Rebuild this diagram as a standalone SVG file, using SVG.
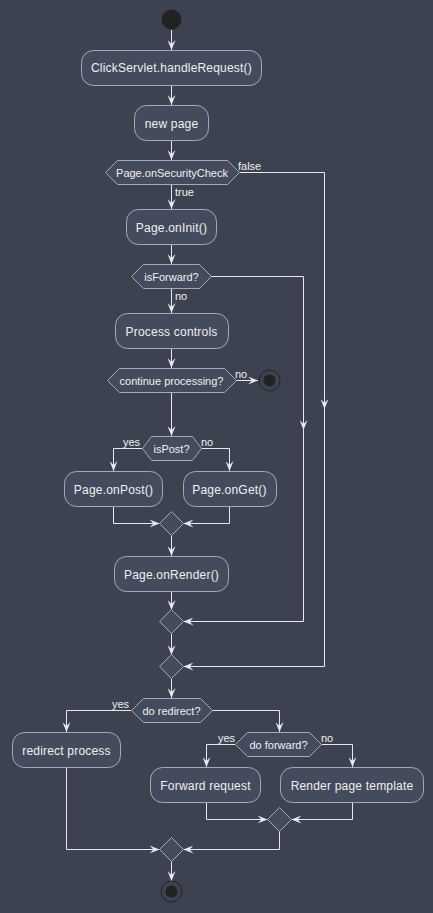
<svg xmlns="http://www.w3.org/2000/svg" width="433" height="913" viewBox="0 0 433 913">
<defs>
<style>
.bg{fill:#3C4250}
.act{fill:#434B5D;stroke:#A3AAB8;stroke-width:1}
.dec{fill:#434B5D;stroke:#A3AAB8;stroke-width:1}
.t{font-family:"Liberation Sans",Arial,sans-serif;font-size:12px;letter-spacing:0.2px;fill:#F0F0F0;text-anchor:middle}
.d{font-family:"Liberation Sans",Arial,sans-serif;font-size:11px;fill:#F0F0F0;text-anchor:middle}
.l{font-family:"Liberation Sans",Arial,sans-serif;font-size:11px;fill:#F0F0F0}
.c{fill:none;stroke:#E5E9F0;stroke-width:1;marker-end:url(#ah)}
</style>
<marker id="ah" viewBox="0 0 10 8" refX="10" refY="4" markerWidth="10" markerHeight="8" markerUnits="userSpaceOnUse" orient="auto">
<path d="M0,0 L10,4 L0,8 L4,4 Z" fill="#E5E9F0"/>
</marker>
</defs>
<rect class="bg" x="0" y="0" width="433" height="913"/>
<g id="connectors">
<path class="c" d="M171.5,30 V50"/>
<path class="c" d="M171.5,86 V105"/>
<path class="c" d="M171.5,140 V160"/>
<path class="c" d="M171.5,184 V209"/>
<path class="c" d="M171.5,244 V264"/>
<path class="c" d="M171.5,288 V313"/>
<path class="c" d="M171.5,348 V368"/>
<path class="c" d="M236,380.5 H258"/>
<path class="c" d="M171.5,393 V436"/>
<path class="c" d="M142,448.5 H113.5 V471"/>
<path class="c" d="M201,448.5 H229.5 V471"/>
<path class="c" d="M113.5,506 V523.5 H159.5"/>
<path class="c" d="M229.5,506 V523.5 H183.5"/>
<path class="c" d="M171.5,535 V556"/>
<path class="c" d="M171.5,591 V610"/>
<path class="c" d="M211,276.5 H303.5 V430"/>
<path class="c" d="M303.5,428 V621.5 H183.5"/>
<path class="c" d="M171.5,634 V655"/>
<path class="c" d="M239,172.5 H324.5 V409"/>
<path class="c" d="M324.5,407 V666.5 H183.5"/>
<path class="c" d="M171.5,679 V698"/>
<path class="c" d="M131,710.5 H66.5 V732"/>
<path class="c" d="M212,710.5 H279.5 V732"/>
<path class="c" d="M235,744.5 H206.5 V767"/>
<path class="c" d="M321,744.5 H352.5 V767"/>
<path class="c" d="M206.5,802 V819.5 H267.5"/>
<path class="c" d="M352.5,802 V819.5 H291.5"/>
<path class="c" d="M66.5,768 V849.5 H159.5"/>
<path class="c" d="M279.5,831 V849.5 H183.5"/>
<path class="c" d="M171.5,861 V881"/>
<text class="l" x="238" y="170">false</text>
<text class="l" x="175" y="196">true</text>
<text class="l" x="175" y="300">no</text>
<text class="l" x="235" y="378">no</text>
<text class="l" x="123" y="446">yes</text>
<text class="l" x="201" y="446">no</text>
<text class="l" x="112" y="708">yes</text>
<text class="l" x="218" y="742">yes</text>
<text class="l" x="321" y="742">no</text>
</g>
<g id="start"><circle cx="171.5" cy="19.5" r="10" fill="#222222"/></g>
<g id="handleRequest"><rect class="act" x="81.5" y="50.5" width="180" height="35" rx="12"/><text class="t" x="171.5" y="72">ClickServlet.handleRequest()</text></g>
<g id="newPage"><rect class="act" x="134.5" y="105.5" width="74" height="35" rx="12"/><text class="t" x="171.5" y="128">new page</text></g>
<g id="securityCheck"><polygon class="dec" points="105.5,172.5 117.5,160.5 227.5,160.5 239.5,172.5 227.5,184.5 117.5,184.5"/><text class="d" x="172" y="176.5">Page.onSecurityCheck</text></g>
<g id="onInit"><rect class="act" x="126.5" y="209.5" width="90" height="35" rx="12"/><text class="t" x="171.5" y="232">Page.onInit()</text></g>
<g id="isForward"><polygon class="dec" points="131.5,276.5 143.5,264.5 199.5,264.5 211.5,276.5 199.5,288.5 143.5,288.5"/><text class="d" x="171.5" y="280.5">isForward?</text></g>
<g id="processControls"><rect class="act" x="115.5" y="313.5" width="113" height="35" rx="12"/><text class="t" x="171.5" y="336">Process controls</text></g>
<g id="continueProcessing"><polygon class="dec" points="107.5,380.5 119.5,368.5 224.5,368.5 236.5,380.5 224.5,392.5 119.5,392.5"/><text class="d" x="171.5" y="384.5">continue processing?</text></g>
<g id="stop1"><circle cx="269.5" cy="380.5" r="10.5" fill="none" stroke="#222222" stroke-width="1"/><circle cx="269.5" cy="380.5" r="6" fill="#222222"/></g>
<g id="isPost"><polygon class="dec" points="142.5,448.5 151.5,436.5 192.5,436.5 201.5,448.5 192.5,460.5 151.5,460.5"/><text class="d" x="171.5" y="452.5">isPost?</text></g>
<g id="onPost"><rect class="act" x="64.5" y="471.5" width="98" height="35" rx="12"/><text class="t" x="113.5" y="494">Page.onPost()</text></g>
<g id="onGet"><rect class="act" x="183.5" y="471.5" width="93" height="35" rx="12"/><text class="t" x="229.5" y="494">Page.onGet()</text></g>
<g id="merge1"><polygon class="dec" points="171.5,511.5 183.5,523.5 171.5,535.5 159.5,523.5"/></g>
<g id="onRender"><rect class="act" x="114.5" y="556.5" width="114" height="35" rx="12"/><text class="t" x="171.5" y="579">Page.onRender()</text></g>
<g id="merge2"><polygon class="dec" points="171.5,609.5 183.5,621.5 171.5,633.5 159.5,621.5"/></g>
<g id="merge3"><polygon class="dec" points="171.5,654.5 183.5,666.5 171.5,678.5 159.5,666.5"/></g>
<g id="doRedirect"><polygon class="dec" points="131.5,710.5 143.5,698.5 200.5,698.5 212.5,710.5 200.5,722.5 143.5,722.5"/><text class="d" x="171.5" y="714.5">do redirect?</text></g>
<g id="redirectProcess"><rect class="act" x="12.5" y="732.5" width="108" height="35" rx="12"/><text class="t" x="66.5" y="755">redirect process</text></g>
<g id="doForward"><polygon class="dec" points="235.5,744.5 247.5,732.5 309.5,732.5 321.5,744.5 309.5,756.5 247.5,756.5"/><text class="d" x="278.5" y="748.5">do forward?</text></g>
<g id="forwardRequest"><rect class="act" x="150.5" y="767.5" width="110" height="35" rx="12"/><text class="t" x="205.5" y="790">Forward request</text></g>
<g id="renderTemplate"><rect class="act" x="280.5" y="767.5" width="143" height="35" rx="12"/><text class="t" x="352" y="790">Render page template</text></g>
<g id="merge4"><polygon class="dec" points="279.5,807.5 291.5,819.5 279.5,831.5 267.5,819.5"/></g>
<g id="merge5"><polygon class="dec" points="171.5,837.5 183.5,849.5 171.5,861.5 159.5,849.5"/></g>
<g id="stop2"><circle cx="171.5" cy="891.5" r="10.5" fill="none" stroke="#222222" stroke-width="1"/><circle cx="171.5" cy="891.5" r="6" fill="#222222"/></g>
</svg>
